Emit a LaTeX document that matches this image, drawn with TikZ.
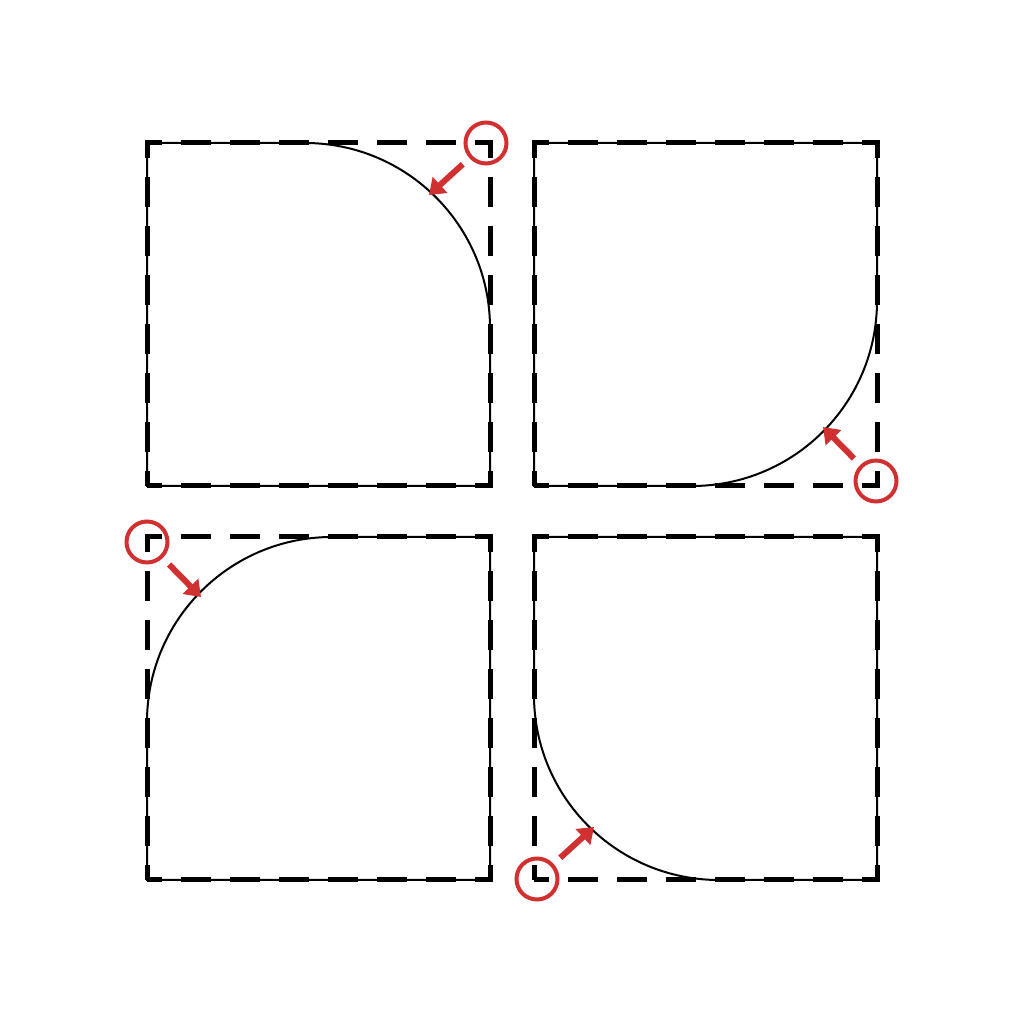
\documentclass[tikz,border=0pt]{standalone}
\usetikzlibrary{arrows.meta}
\definecolor{markred}{RGB}{209,48,48}

\begin{document}
\begin{tikzpicture}[
	outline/.style={line width=0.02cm},
	frame/.style={line width=0.05cm, dash pattern=on 0.30cm off 0.19cm, dash phase=0.15cm},
	ring/.style={circle, draw=markred, line width=0.04cm, minimum size=0.41cm, inner sep=0pt},
	pointer/.style={markred, line width=0.06cm, shorten <=0.09cm, -{Triangle[length=0.15cm, width=0.21cm]}},
]
	\useasboundingbox (0,0) rectangle (10.24,10.24);

	% top left
	\draw [outline] (4.90,5.38) -- (1.47,5.38) -- (1.47,8.81) [rounded corners=1.85cm] -- (4.90,8.81) [sharp corners] -- cycle;
	\draw [frame] (1.47,5.38) rectangle (4.90,8.81);
	\node [ring] (r1) at (4.86,8.81) {};
	\coordinate (t1) at (4.29,8.29);
	\draw [pointer] (r1) -- (t1);

	% top right
	\draw [outline] (5.34,5.38) -- (5.34,8.81) -- (8.77,8.81) [rounded corners=1.85cm] -- (8.77,5.38) [sharp corners] -- cycle;
	\draw [frame] (5.34,5.38) rectangle (8.77,8.81);
	\node [ring] (r2) at (8.76,5.43) {};
	\coordinate (t2) at (8.23,5.97);
	\draw [pointer] (r2) -- (t2);

	% bottom left
	\draw [outline] (4.90,4.87) -- (4.90,1.44) -- (1.47,1.44) [rounded corners=1.85cm] -- (1.47,4.87) [sharp corners] -- cycle;
	\draw [frame] (1.47,1.44) rectangle (4.90,4.87);
	\node [ring] (r3) at (1.47,4.82) {};
	\coordinate (t3) at (2.01,4.27);
	\draw [pointer] (r3) -- (t3);

	% bottom right
	\draw [outline] (8.77,1.44) -- (8.77,4.87) -- (5.34,4.87) [rounded corners=1.85cm] -- (5.34,1.44) [sharp corners] -- cycle;
	\draw [frame] (5.34,1.44) rectangle (8.77,4.87);
	\node [ring] (r4) at (5.37,1.45) {};
	\coordinate (t4) at (5.94,1.97);
	\draw [pointer] (r4) -- (t4);
\end{tikzpicture}
\end{document}
